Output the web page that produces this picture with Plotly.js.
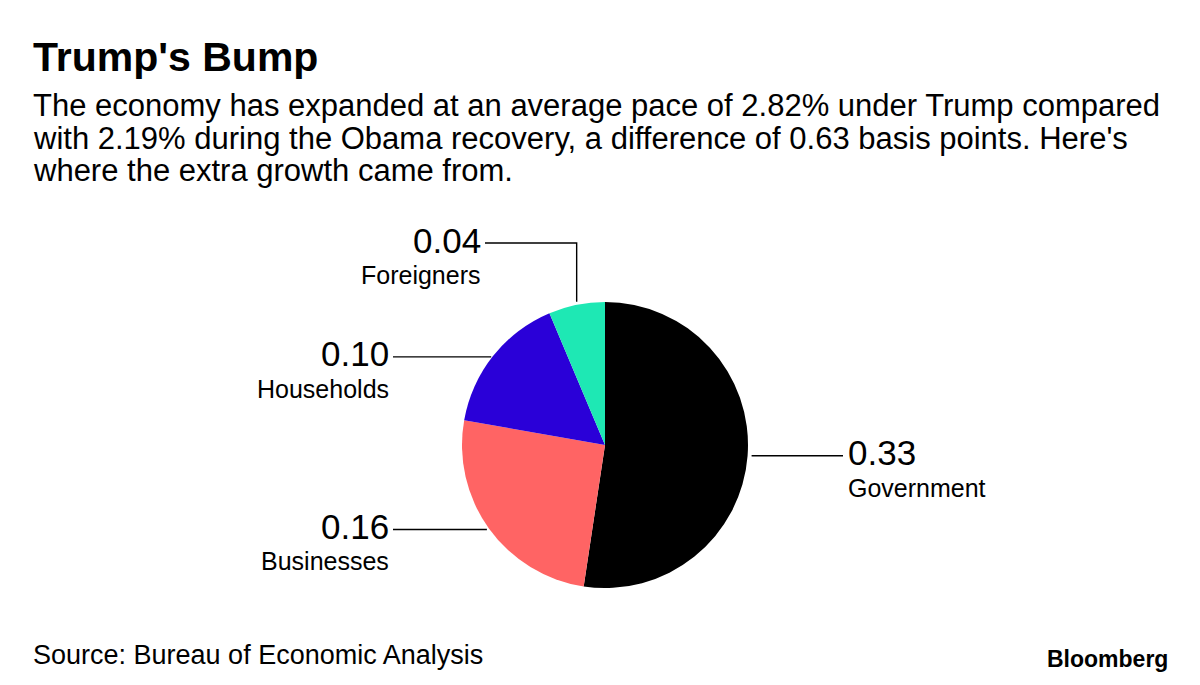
<!DOCTYPE html>
<html><head><meta charset="utf-8">
<script src="https://cdn.plot.ly/plotly-3.0.1.min.js"></script>
<style>html,body{margin:0;padding:0;background:#fff}</style>
</head><body><div id="chart" style="width:1200px;height:685px"></div>
<script>
// ---- data ----
const categories = ["Government", "Businesses", "Households", "Foreigners"];
const values = [0.33, 0.16, 0.10, 0.04];
const valueLabels = ["0.33", "0.16", "0.10", "0.04"];
const colors = ["#000000", "#ff6464", "#2a00d8", "#1ee8b4"];
const titleText = "Trump's Bump";
const subtitleLines = [
  "The economy has expanded at an average pace of 2.82% under Trump compared",
  "with 2.19% during the Obama recovery, a difference of 0.63 basis points. Here's",
  "where the extra growth came from."
];
const sourceText = "Source: Bureau of Economic Analysis";
const brandText = "Bloomberg";

// ---- layout helpers ----
const W = 1200, H = 685;
const cx = 605, cy = 445, R = 143;
const px = x => x / W, py = y => 1 - y / H;
const FONT = "Liberation Sans, Arial, Helvetica, sans-serif";

// leader placement per slice (layout only)
const leader = [
  {side: "right", end: 843},
  {side: "left", end: 393},
  {side: "left", end: 393},
  {side: "elbow", end: 485, top: 243}
];

const total = values.reduce((a, b) => a + b, 0);
const shapes = [];
const annotations = [];
let cum = 0;
values.forEach((v, i) => {
  const mid = (cum + v / 2) / total * 2 * Math.PI;
  cum += v;
  const ex = cx + R * Math.sin(mid);
  const ey = cy - R * Math.cos(mid);
  const L = leader[i];
  let lineY, textX, anchor;
  if (L.side === "right") {
    lineY = ey;
    shapes.push({type: "line", xref: "paper", yref: "paper", x0: px(ex + 4), x1: px(L.end), y0: py(ey), y1: py(ey), line: {color: "#000", width: 1.4}});
    textX = L.end + 3; anchor = "left";
  } else if (L.side === "left") {
    lineY = ey + 1;
    shapes.push({type: "line", xref: "paper", yref: "paper", x0: px(ex - 2), x1: px(L.end), y0: py(lineY), y1: py(lineY), line: {color: "#000", width: 1.4}});
    textX = L.end - 2; anchor = "right";
  } else {
    lineY = L.top;
    shapes.push({type: "path", xref: "paper", yref: "paper",
      path: `M ${px(ex)} ${py(ey - 3)} L ${px(ex)} ${py(L.top)} L ${px(L.end)} ${py(L.top)}`,
      line: {color: "#000", width: 1.4}});
    textX = L.end - 2; anchor = "right";
  }
  annotations.push({xref: "paper", yref: "paper", x: px(textX), y: py(lineY - 3), xanchor: anchor, yanchor: "middle",
    text: valueLabels[i], showarrow: false, font: {family: FONT, size: 35, color: "#000"}});
  annotations.push({xref: "paper", yref: "paper", x: px(textX), y: py(lineY + 32), xanchor: anchor, yanchor: "middle",
    text: categories[i], showarrow: false, font: {family: FONT, size: 25, color: "#000"}});
});

annotations.push({xref: "paper", yref: "paper", x: px(31), y: py(57), xanchor: "left", yanchor: "middle",
  text: "<b>" + titleText + "</b>", showarrow: false, font: {family: FONT, size: 41, color: "#000"}});
subtitleLines.forEach((t, k) => {
  annotations.push({xref: "paper", yref: "paper", x: px(31), y: py(106 + k * 32.5), xanchor: "left", yanchor: "middle",
    text: t, showarrow: false, font: {family: FONT, size: 31, color: "#000"}});
});
annotations.push({xref: "paper", yref: "paper", x: px(31), y: py(655), xanchor: "left", yanchor: "middle",
  text: sourceText, showarrow: false, font: {family: FONT, size: 27, color: "#000"}});
annotations.push({xref: "paper", yref: "paper", x: px(1170), y: py(659), xanchor: "right", yanchor: "middle",
  text: "<b>" + brandText + "</b>", showarrow: false, font: {family: FONT, size: 23, color: "#000"}});

const trace = {
  type: "pie",
  labels: categories,
  values: values,
  marker: {colors: colors, line: {width: 0}},
  sort: false,
  direction: "clockwise",
  rotation: 0,
  textinfo: "none",
  hoverinfo: "none",
  showlegend: false,
  domain: {x: [px(cx - R), px(cx + R)], y: [py(cy + R), py(cy - R)]}
};

Plotly.newPlot("chart", [trace], {
  width: W, height: H,
  margin: {l: 0, r: 0, t: 0, b: 0},
  paper_bgcolor: "#fff",
  showlegend: false,
  shapes: shapes,
  annotations: annotations
}, {displayModeBar: false, staticPlot: true});
</script></body></html>
